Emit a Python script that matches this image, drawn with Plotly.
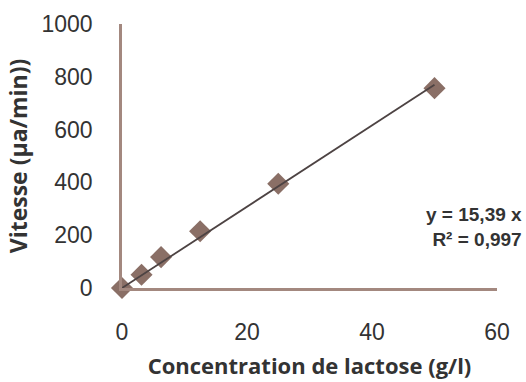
import plotly.graph_objects as go

conc = [0, 3.125, 6.25, 12.5, 25, 50]
vitesse = [0, 50, 117, 215, 395, 757]
slope = 15.39
x_ticks = [0, 20, 40, 60]
y_ticks = [0, 200, 400, 600, 800, 1000]

fit_x = [0, 50]
fit_y = [slope * v for v in fit_x]

fig = go.Figure()
fig.add_trace(go.Scatter(x=conc, y=vitesse, mode="markers",
                         marker=dict(symbol="diamond", size=17, color="#8a6f66",
                                     line=dict(width=0)),
                         showlegend=False, cliponaxis=False))
fig.add_trace(go.Scatter(x=fit_x, y=fit_y, mode="lines",
                         line=dict(color="#4d4343", width=1.8),
                         showlegend=False, cliponaxis=False))

axis_color = "#a3887f"
fig.update_layout(
    width=526, height=382,
    margin=dict(l=122, r=29, t=24, b=94),
    plot_bgcolor="white", paper_bgcolor="white",
    font=dict(family="Liberation Sans, Arial, sans-serif", color="#333333"),
    xaxis=dict(range=[0, 60], tickvals=x_ticks, showgrid=False, zeroline=False,
               showline=True, linecolor=axis_color, linewidth=2.5, automargin=False,
               ticks="", tickfont=dict(size=23, color="#333333"),
               ticklabelstandoff=22,
               title=dict(text="<b>Concentration de lactose (g/l)</b>",
                          font=dict(family="Open Sans, sans-serif", size=22, color="#333333"),
                          standoff=15)),
    yaxis=dict(range=[0, 1000], tickvals=y_ticks, showgrid=False, zeroline=False,
               showline=True, linecolor=axis_color, linewidth=2.5, automargin=False,
               ticks="", tickfont=dict(size=23, color="#333333"),
               ticklabelstandoff=22,
               title=dict(text="<b>Vitesse (µa/min))</b>",
                          font=dict(family="Open Sans, sans-serif", size=23, color="#333333"),
                          standoff=8)),
    annotations=[dict(x=1.072, y=0.232, xref="paper", yref="paper",
                      xanchor="right", yanchor="middle", align="right",
                      text="<b>y = 15,39 x<br>R² = 0,997</b>", showarrow=False,
                      font=dict(size=19, color="#333333", family="Liberation Sans, Arial, sans-serif"))],
)
fig.write_html("out.html")
